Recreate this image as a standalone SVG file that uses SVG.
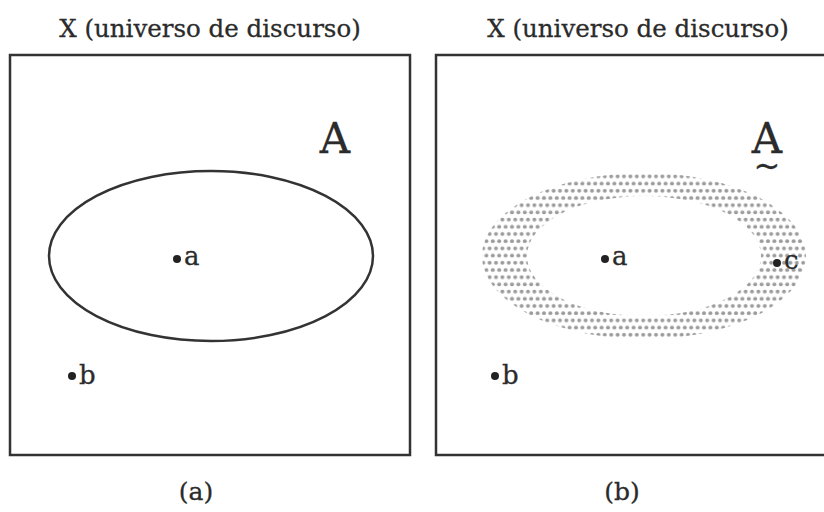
<svg xmlns="http://www.w3.org/2000/svg" width="824" height="512" viewBox="0 0 824 512">
<defs>
<pattern id="dots" patternUnits="userSpaceOnUse" width="6.4" height="14.4" x="0" y="0">
<circle cx="3.2" cy="3.6" r="2" fill="#9c9c9c"/>
<circle cx="0" cy="10.8" r="2" fill="#9c9c9c"/>
<circle cx="6.4" cy="10.8" r="2" fill="#9c9c9c"/>
</pattern>
<style>
text{font-family:"DejaVu Serif","Liberation Serif",serif;fill:#2b2b2b;stroke:#2b2b2b;stroke-width:0.3;}
.t{font-size:24.5px;}
.cap{font-size:25px;}
.lbl{font-size:26px;}
.big{font-size:42px;}
.tl{font-size:32px;}
.box{fill:#fff;stroke:#333;stroke-width:2.5;}
.pt{fill:#222;}
</style>
</defs>
<rect width="824" height="512" fill="#fff"/>
<g id="panel-a">
<text class="t" x="210" y="37" text-anchor="middle">X (universo de discurso)</text>
<rect class="box" x="10" y="55" width="400" height="400"/>
<text class="big" x="335" y="153" text-anchor="middle">A</text>
<ellipse cx="211" cy="256" rx="162" ry="85" fill="none" stroke="#333" stroke-width="2.5"/>
<circle class="pt" cx="177" cy="259" r="4"/>
<text class="lbl" x="184" y="265">a</text>
<circle class="pt" cx="72" cy="376" r="4"/>
<text class="lbl" x="79" y="384">b</text>
<text class="cap" x="196" y="500" text-anchor="middle">(a)</text>
</g>
<g id="panel-b">
<text class="t" x="638" y="37" text-anchor="middle">X (universo de discurso)</text>
<rect class="box" x="436" y="55" width="400" height="400"/>
<text class="big" x="767" y="153" text-anchor="middle">A</text>
<text class="tl" x="767" y="177" text-anchor="middle">~</text>
<path d="M482,256 a162,83 0 1,0 324,0 a162,83 0 1,0 -324,0 Z M527,256 a117,60 0 1,0 234,0 a117,60 0 1,0 -234,0 Z" fill="url(#dots)" fill-rule="evenodd"/>
<circle class="pt" cx="605" cy="259" r="4"/>
<text class="lbl" x="612" y="265">a</text>
<circle class="pt" cx="777" cy="263" r="4"/>
<text class="lbl" x="784" y="269">c</text>
<circle class="pt" cx="495" cy="376" r="4"/>
<text class="lbl" x="502" y="384">b</text>
<text class="cap" x="622" y="500" text-anchor="middle">(b)</text>
</g>
<g id="connectors"/>
</svg>
